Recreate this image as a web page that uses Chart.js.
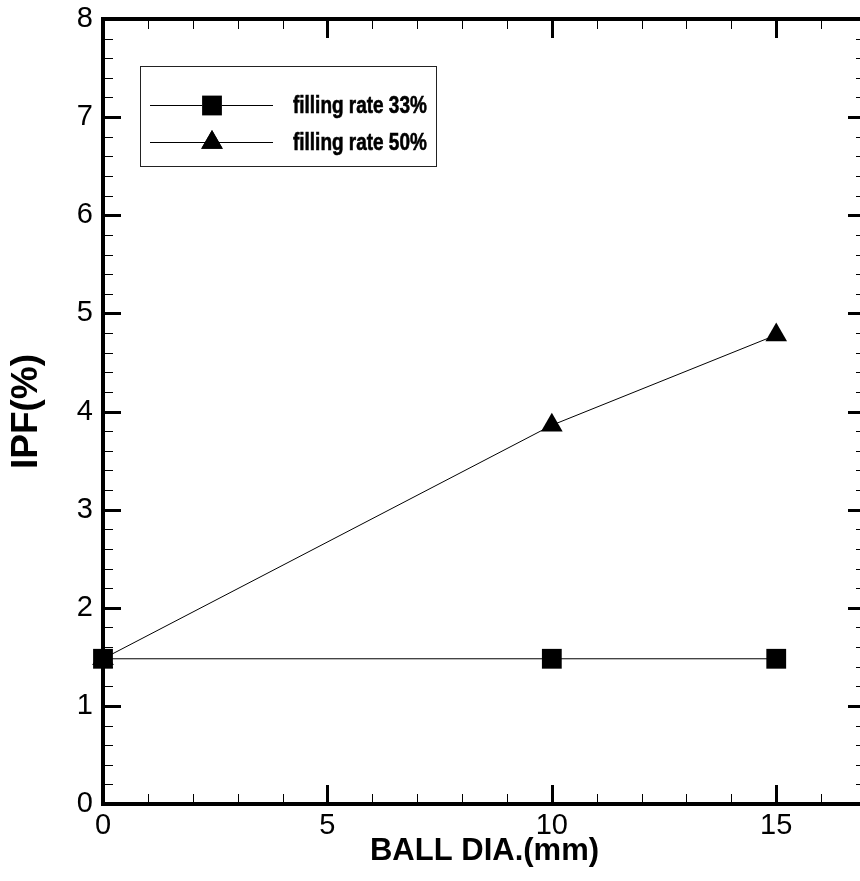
<!DOCTYPE html>
<html>
<head>
<meta charset="utf-8">
<script src="https://cdn.jsdelivr.net/npm/chart.js@4.4.1/dist/chart.umd.min.js"></script>
<style>
  html, body { margin: 0; padding: 0; background: #fff; overflow: hidden; }
  #wrap { width: 860px; height: 881px; overflow: hidden; }
  canvas { display: block; }
</style>
</head>
<body>
<div id="wrap"><canvas id="c" width="880" height="881" style="width:880px;height:881px"></canvas></div>
<script>
// Ball diameter (mm) and IPF (%) for the two filling rates
const ballDia = [0, 10, 15];
const ipfFill33 = [1.48, 1.48, 1.48];
const ipfFill50 = [1.48, 3.86, 4.78];
const seriesNames = ['filling rate 33%', 'filling rate 50%'];

// Axis ranges and labelled ticks
const xRange = [0, 17];
const yRange = [0, 8];
const xTickLabels = [0, 5, 10, 15];
const yTickLabels = [0, 1, 2, 3, 4, 5, 6, 7, 8];
const xMinorStep = 1;
const yMinorStep = 0.2;

const FONT = "'Liberation Sans', Arial, Helvetica, sans-serif";

const toPoints = (xs, ys) => xs.map((v, i) => ({ x: v, y: ys[i] }));

// Boxed frame with inward major/minor ticks on all four sides
const frameTicks = {
  id: 'frameTicks',
  beforeDatasetsDraw(chart) {
    const { ctx, chartArea: a, scales: { x, y } } = chart;
    ctx.save();
    ctx.strokeStyle = '#000';
    const seg = (x1, y1, x2, y2) => { ctx.beginPath(); ctx.moveTo(x1, y1); ctx.lineTo(x2, y2); ctx.stroke(); };

    // minor ticks
    ctx.lineWidth = 1;
    for (let v = xRange[0]; v <= xRange[1] + 1e-9; v += xMinorStep) {
      if (xTickLabels.includes(Math.round(v * 1000) / 1000)) continue;
      const px = Math.round(x.getPixelForValue(v)) + 0.5;
      seg(px, a.bottom, px, a.bottom - 10);
      seg(px, a.top, px, a.top + 10);
    }
    for (let v = yRange[0]; v <= yRange[1] + 1e-9; v += yMinorStep) {
      const r = Math.round(v * 1000) / 1000;
      if (yTickLabels.includes(r)) continue;
      const py = Math.round(y.getPixelForValue(r)) + 0.5;
      seg(a.left, py, a.left + 10, py);
      seg(a.right, py, a.right - 10, py);
    }

    // major ticks
    ctx.lineWidth = 3;
    for (const v of xTickLabels) {
      const px = Math.round(x.getPixelForValue(v)) + 0.5;
      seg(px, a.bottom, px, a.bottom - 19);
      seg(px, a.top, px, a.top + 19);
    }
    for (const v of yTickLabels) {
      const py = Math.round(y.getPixelForValue(v)) + 0.5;
      seg(a.left, py, a.left + 18, py);
      seg(a.right, py, a.right - 18, py);
    }

    // frame
    ctx.lineWidth = 4;
    ctx.strokeRect(a.left, a.top, a.right - a.left, a.bottom - a.top);
    ctx.restore();
  }
};

// Boxed legend with line + marker samples
const boxedLegend = {
  id: 'boxedLegend',
  afterDatasetsDraw(chart) {
    const { ctx, chartArea: a } = chart;
    const bx = a.left + 37, by = a.top + 47, bw = 296, bh = 100;
    ctx.save();
    ctx.fillStyle = '#fff';
    ctx.fillRect(bx, by, bw, bh);
    ctx.strokeStyle = '#222';
    ctx.lineWidth = 1;
    ctx.strokeRect(bx + 0.5, by + 0.5, bw, bh);

    chart.data.datasets.forEach((ds, i) => {
      const ry = Math.round(by + 39 + i * 37) + 0.5;
      ctx.strokeStyle = '#000';
      ctx.lineWidth = 1;
      ctx.beginPath();
      ctx.moveTo(bx + 10, ry);
      ctx.lineTo(bx + 133, ry);
      ctx.stroke();
      Chart.helpers.drawPoint(ctx, {
        pointStyle: ds.pointStyle,
        radius: ds.pointRadius,
        rotation: 0,
        borderWidth: 0
      }, bx + 72, ry);
      ctx.fillStyle = '#000';
      ctx.fill();

      ctx.save();
      ctx.font = 'bold 24px ' + FONT;
      ctx.textBaseline = 'middle';
      ctx.translate(bx + 153, ry + 1);
      ctx.scale(0.79, 1);
      ctx.fillText(ds.label, 0, 0);
      ctx.lineWidth = 0.6;
      ctx.strokeStyle = '#000';
      ctx.strokeText(ds.label, 0, 0);
      ctx.restore();
    });
    ctx.restore();
  }
};

new Chart(document.getElementById('c'), {
  type: 'scatter',
  data: {
    datasets: [
      {
        label: seriesNames[0],
        data: toPoints(ballDia, ipfFill33),
        showLine: true,
        borderColor: '#000',
        borderWidth: 1,
        pointStyle: 'rect',
        pointRadius: 14,
        pointBackgroundColor: '#000',
        pointBorderColor: '#000',
        pointBorderWidth: 0,
        clip: false
      },
      {
        label: seriesNames[1],
        data: toPoints(ballDia, ipfFill50),
        showLine: true,
        borderColor: '#000',
        borderWidth: 1,
        pointStyle: 'triangle',
        pointRadius: 12.5,
        pointBackgroundColor: '#000',
        pointBorderColor: '#000',
        pointBorderWidth: 0,
        clip: false
      }
    ]
  },
  options: {
    responsive: false,
    animation: false,
    devicePixelRatio: 1,
    layout: { padding: { top: 19, right: 14, left: 0, bottom: 0 } },
    plugins: { legend: { display: false }, tooltip: { enabled: false } },
    scales: {
      x: {
        type: 'linear',
        min: xRange[0],
        max: xRange[1],
        grid: { display: false, drawTicks: false },
        border: { display: false },
        afterBuildTicks: s => { s.ticks = xTickLabels.map(v => ({ value: v })); },
        afterFit: s => { s.height = 77; s.paddingLeft = 0; s.paddingRight = 0; },
        ticks: {
          color: '#000',
          padding: 5,
          maxRotation: 0,
          font: { family: FONT, size: 29 }
        },
        title: {
          display: true,
          text: 'BALL DIA.(mm)',
          color: '#000',
          padding: { top: 0, bottom: 11 },
          font: { family: FONT, size: 31, weight: 'bold' }
        }
      },
      y: {
        type: 'linear',
        min: yRange[0],
        max: yRange[1],
        grid: { display: false, drawTicks: false },
        border: { display: false },
        afterBuildTicks: s => { s.ticks = yTickLabels.map(v => ({ value: v })); },
        afterFit: s => { s.width = 103; s.paddingTop = 0; s.paddingBottom = 0; },
        ticks: {
          color: '#000',
          padding: 10,
          font: { family: FONT, size: 29 }
        },
        title: {
          display: true,
          text: 'IPF(%)',
          color: '#000',
          padding: { top: 5, bottom: 0 },
          font: { family: FONT, size: 37, weight: 'bold' }
        }
      }
    }
  },
  plugins: [frameTicks, boxedLegend]
});
</script>
</body>
</html>
